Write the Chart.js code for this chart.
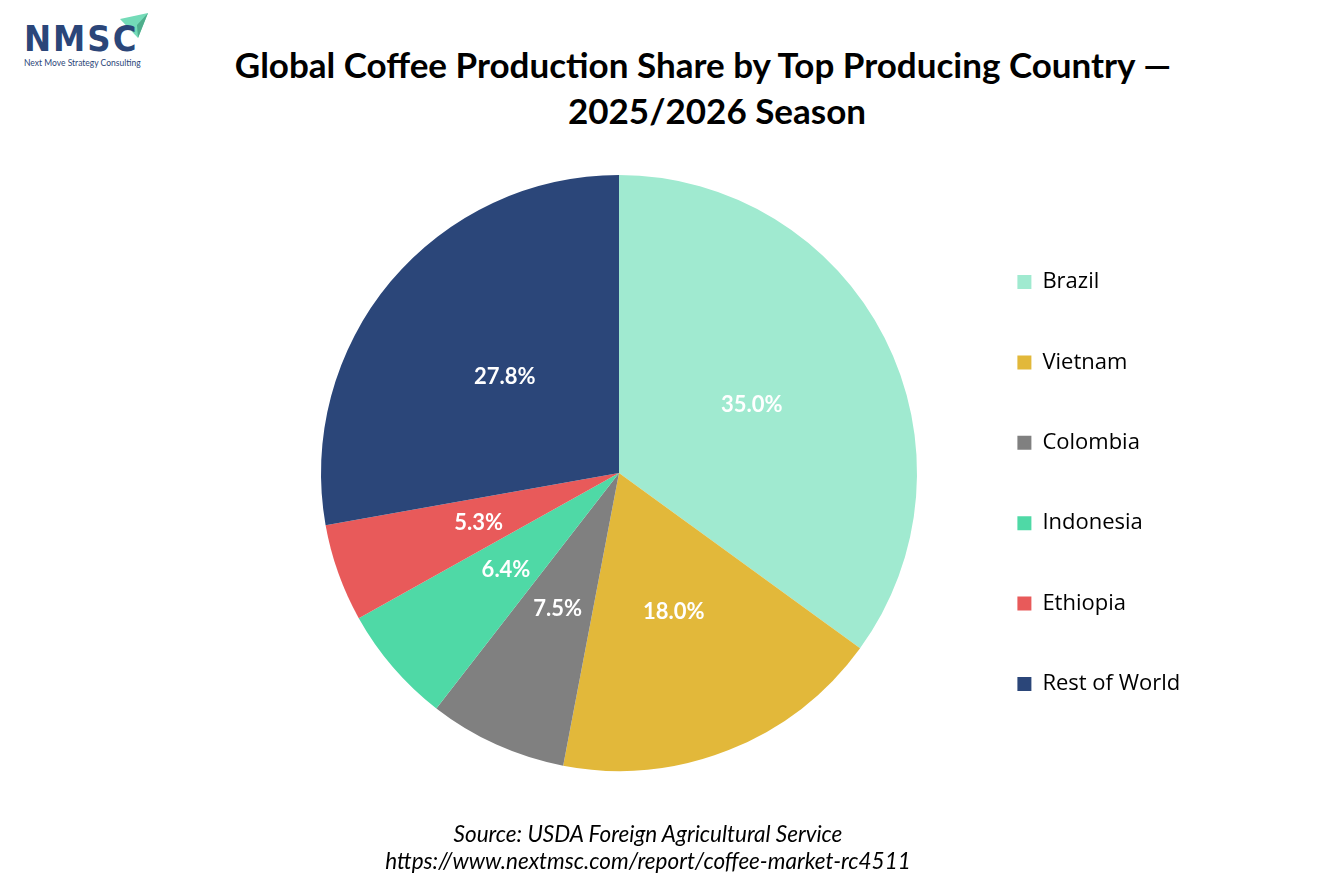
<!DOCTYPE html>
<html>
<head>
<meta charset="utf-8">
<script src="https://cdn.jsdelivr.net/npm/chart.js@4.4.1/dist/chart.umd.min.js"></script>
<style>
  html, body { margin: 0; padding: 0; background: #fff; }
  body { width: 1334px; height: 889px; position: relative; overflow: hidden; font-family: Lato, "Open Sans", sans-serif; }
  #pie { position: absolute; left: 0; top: 0; }
  .ttl { position: absolute; font-weight: 700; font-size: 35px; color: #000; text-align: center; white-space: nowrap; line-height: 40px; }
  .src { position: absolute; left: 0; width: 1296px; text-align: center; font-style: italic; font-size: 22.5px; color: #000; line-height: 27px; }
  .logo { position: absolute; left: 24px; top: 17px; }
  .logo .big { font-family: "DejaVu Sans Condensed", "DejaVu Sans", sans-serif; font-weight: 700; font-size: 36px; letter-spacing: 2px; color: #2b4679; line-height: 44px; }
  .logo .small { font-size: 8.5px; color: #2b4679; margin-top: -3px; }
  .mark { position: absolute; left: 0; top: 0; }
</style>
</head>
<body>
<svg class="mark" width="160" height="50"><polygon points="120,19 148,13 138,38" fill="#74dbb8"/><polygon points="137,25 148,13 138,38" fill="#4fae8c"/></svg>
<div class="logo"><div class="big">NMSC</div><div class="small">Next Move Strategy Consulting</div></div>
<div class="ttl" style="left:0; width:1406px; top:44px;">Global Coffee Production Share by Top Producing Country —</div>
<div class="ttl" style="left:0; width:1434px; top:90px;">2025/2026 Season</div>
<canvas id="pie" width="1334" height="889"></canvas>
<div class="src" style="top:820px;">Source: USDA Foreign Agricultural Service<br>https://www.nextmsc.com/report/coffee-market-rc4511</div>
<script>
let countries = ["Brazil", "Vietnam", "Colombia", "Indonesia", "Ethiopia", "Rest of World"];
let shares = [35.0, 18.0, 7.5, 6.4, 5.3, 27.8];
let colors = ["#a0ead0", "#e2b83a", "#808080", "#4fd9a6", "#e85a5a", "#2b4679"];

let legendFont = 22;
let legendPad = 58.4;
let boxW = 14;

// rough legend width so the legend box starts near x=961
let mctx = document.createElement("canvas").getContext("2d");
mctx.font = legendFont + "px 'Open Sans'";
let widest = Math.max(...countries.map((c) => mctx.measureText(c).width));
let legendLeft = 969;
let padRight = 1334 - legendLeft - (legendPad + boxW + legendFont / 2 + widest);

// percentage labels inside each slice
let sliceLabels = {
  id: "sliceLabels",
  afterDatasetsDraw(chart) {
    let ctx = chart.ctx;
    let meta = chart.getDatasetMeta(0);
    ctx.save();
    ctx.font = "bold 22px Lato";
    ctx.fillStyle = "#ffffff";
    ctx.textAlign = "center";
    ctx.textBaseline = "middle";
    meta.data.forEach((arc, i) => {
      let p = arc.tooltipPosition();
      ctx.fillText(shares[i].toFixed(1) + "%", p.x, p.y);
    });
    ctx.restore();
  },
};

let ctxPie = document.querySelector("#pie");
let pieChart = new Chart(ctxPie, {
  type: "pie",
  data: {
    labels: countries,
    datasets: [
      {
        data: shares,
        backgroundColor: colors,
        borderWidth: 0,
      },
    ],
  },
  options: {
    responsive: false,
    animation: false,
    layout: {
      padding: { left: 279, top: 175, bottom: 118, right: padRight },
    },
    plugins: {
      tooltip: { enabled: false },
      legend: {
        position: "right",
        align: "center",
        title: { display: true, text: "", font: { size: 10 }, padding: { top: 8, bottom: 0 } },
        labels: {
          boxWidth: boxW,
          boxHeight: 14,
          padding: legendPad,
          color: "#000",
          font: { family: "'Open Sans'", size: legendFont },
        },
      },
    },
  },
  plugins: [sliceLabels],
});
</script>
</body>
</html>
